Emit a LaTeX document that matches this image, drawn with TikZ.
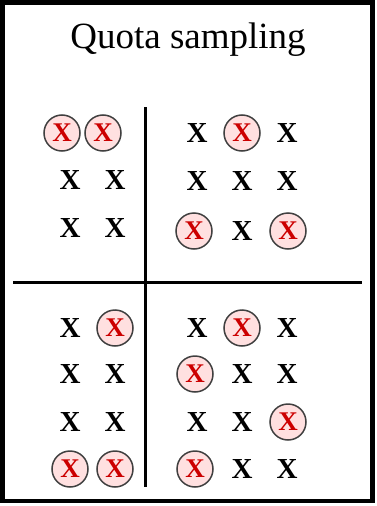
\documentclass[tikz,border=0pt]{standalone}
\usepackage{fontspec}
\setmainfont{Liberation Serif}
\begin{document}
\begin{tikzpicture}[
    x=1pt, y=-1pt,
    every node/.style={inner sep=0pt},
    plain/.style={font=\fontsize{29}{29}\selectfont\bfseries},
    picked/.style={circle, draw=black!75, line width=1.5pt, fill=red!12,
      minimum size=36pt, text=red!80!black, font=\fontsize{27}{27}\selectfont\bfseries}
  ]
  \useasboundingbox (0,0) rectangle (376,506);
  \draw[line width=4.5pt] (2.5,2.5) rectangle (372.5,501);
  \node (title) at (188,40) {\fontsize{37}{37}\selectfont Quota sampling};
  \draw[line width=3pt] (13,282) -- (362,282);
  \draw[line width=3pt] (145.5,107) -- (145.5,487);
  % top left
  \node[picked] (a1) at (62,133) {X};
  \node[picked] (a2) at (103,133) {X};
  \node[plain] (a3) at (70,180) {X};
  \node[plain] (a4) at (115,180) {X};
  \node[plain] (a5) at (70,228) {X};
  \node[plain] (a6) at (115,228) {X};
  % top right
  \node[plain] (b1) at (197,133) {X};
  \node[picked] (b2) at (242,133) {X};
  \node[plain] (b3) at (287,133) {X};
  \node[plain] (b4) at (197,181) {X};
  \node[plain] (b5) at (242,181) {X};
  \node[plain] (b6) at (287,181) {X};
  \node[picked] (b7) at (194,231) {X};
  \node[plain] (b8) at (242,231) {X};
  \node[picked] (b9) at (288,231) {X};
  % bottom left
  \node[plain] (c1) at (70,328) {X};
  \node[picked] (c2) at (115,328) {X};
  \node[plain] (c3) at (70,374) {X};
  \node[plain] (c4) at (115,374) {X};
  \node[plain] (c5) at (70,422) {X};
  \node[plain] (c6) at (115,422) {X};
  \node[picked] (c7) at (70,469) {X};
  \node[picked] (c8) at (115,469) {X};
  % bottom right
  \node[plain] (d1) at (197,328) {X};
  \node[picked] (d2) at (242,328) {X};
  \node[plain] (d3) at (287,328) {X};
  \node[picked] (d4) at (195,374) {X};
  \node[plain] (d5) at (242,374) {X};
  \node[plain] (d6) at (287,374) {X};
  \node[plain] (d7) at (197,422) {X};
  \node[plain] (d8) at (242,422) {X};
  \node[picked] (d9) at (288,422) {X};
  \node[picked] (d10) at (195,469) {X};
  \node[plain] (d11) at (242,469) {X};
  \node[plain] (d12) at (287,469) {X};
\end{tikzpicture}
\end{document}
